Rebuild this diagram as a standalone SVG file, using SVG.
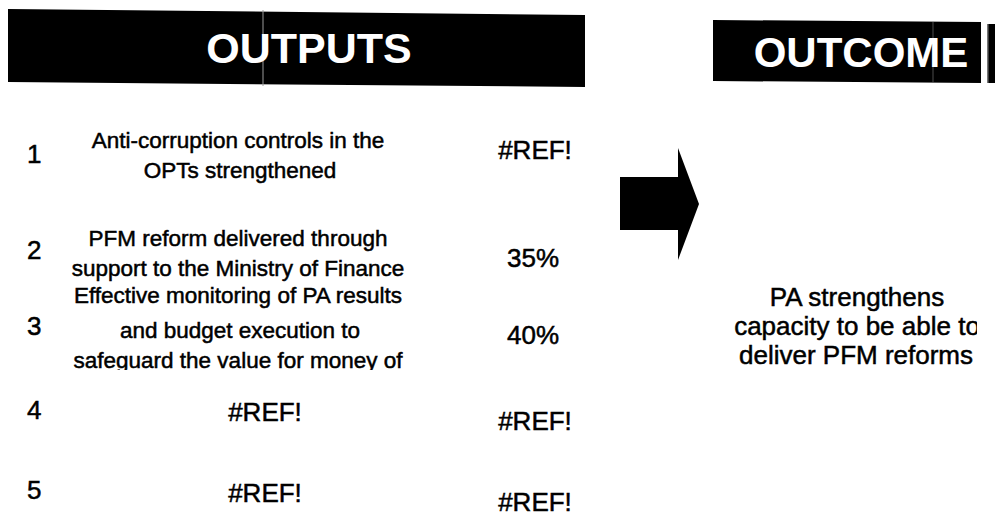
<svg xmlns="http://www.w3.org/2000/svg" width="1003" height="525" viewBox="0 0 1003 525">
  <style>
    .head { font-family: "Liberation Sans", Arial, sans-serif; font-weight: bold; fill: #fff; }
    .body { font-family: "Liberation Sans", Arial, sans-serif; font-size: 26px; fill: #000; stroke: #000; stroke-width: 0.5; }
    .desc { font-size: 22.5px; }
    .mid { text-anchor: middle; }
    .bar { fill: #000; }
    .grid { stroke: #9a9a9a; stroke-width: 1; }
  </style>
  <defs>
    <clipPath id="cellClip3">
      <rect x="0" y="340" width="600" height="30"/>
    </clipPath>
    <clipPath id="outcomeClip">
      <rect x="700" y="270" width="277" height="120"/>
    </clipPath>
  </defs>
  <rect width="1003" height="525" fill="#fff"/>

  <!-- Header bars -->
  <g id="outputs-header">
    <polygon class="bar" points="8,9 585,15 585,87 8,82"/>
    <line class="grid" x1="263" y1="10" x2="263" y2="86"/>
    <text class="head mid" x="309" y="63" font-size="43">OUTPUTS</text>
  </g>
  <g id="outcome-header">
    <polygon class="bar" points="713,20 981,22 981,83 713,81"/>
    <line class="grid" x1="933" y1="21" x2="933" y2="82" stroke-opacity="0.5"/>
    <text class="head mid" x="861" y="67" font-size="42">OUTCOME</text>
    <rect x="988" y="24" width="7" height="59" fill="#000"/>
    <rect x="987" y="24" width="1.5" height="59" fill="#777"/>
  </g>

  <!-- Output rows -->
  <g id="output-1">
    <text class="body" x="27" y="163">1</text>
    <text class="body desc mid" x="238" y="148">Anti-corruption controls in the</text>
    <text class="body desc mid" x="240" y="178">OPTs strengthened</text>
    <text class="body mid" x="535" y="159">#REF!</text>
  </g>
  <g id="output-2">
    <text class="body" x="27" y="259">2</text>
    <text class="body desc mid" x="238" y="246">PFM reform delivered through</text>
    <text class="body desc mid" x="238" y="276">support to the Ministry of Finance</text>
    <text class="body mid" x="533" y="267">35%</text>
  </g>
  <g id="output-3">
    <text class="body" x="27" y="335">3</text>
    <text class="body desc mid" x="238" y="303">Effective monitoring of PA results</text>
    <text class="body desc mid" x="240" y="338">and budget execution to</text>
    <g clip-path="url(#cellClip3)">
      <text class="body desc mid" x="238" y="368">safeguard the value for money of</text>
    </g>
    <text class="body mid" x="533" y="344">40%</text>
  </g>
  <g id="output-4">
    <text class="body" x="27" y="419">4</text>
    <text class="body mid" x="265" y="421">#REF!</text>
    <text class="body mid" x="535" y="430">#REF!</text>
  </g>
  <g id="output-5">
    <text class="body" x="27" y="499">5</text>
    <text class="body mid" x="265" y="502">#REF!</text>
    <text class="body mid" x="535" y="511">#REF!</text>
  </g>

  <!-- Block arrow from outputs to outcome -->
  <g id="connectors">
    <polygon fill="#000" points="620,177 678,177 678,148 699,204 678,260 678,230 620,230"/>
  </g>

  <!-- Outcome statement -->
  <g id="outcome" clip-path="url(#outcomeClip)">
    <text class="body mid" x="857" y="306">PA strengthens</text>
    <text class="body mid" x="857" y="335">capacity to be able to</text>
    <text class="body mid" x="856" y="364">deliver PFM reforms</text>
  </g>
</svg>
